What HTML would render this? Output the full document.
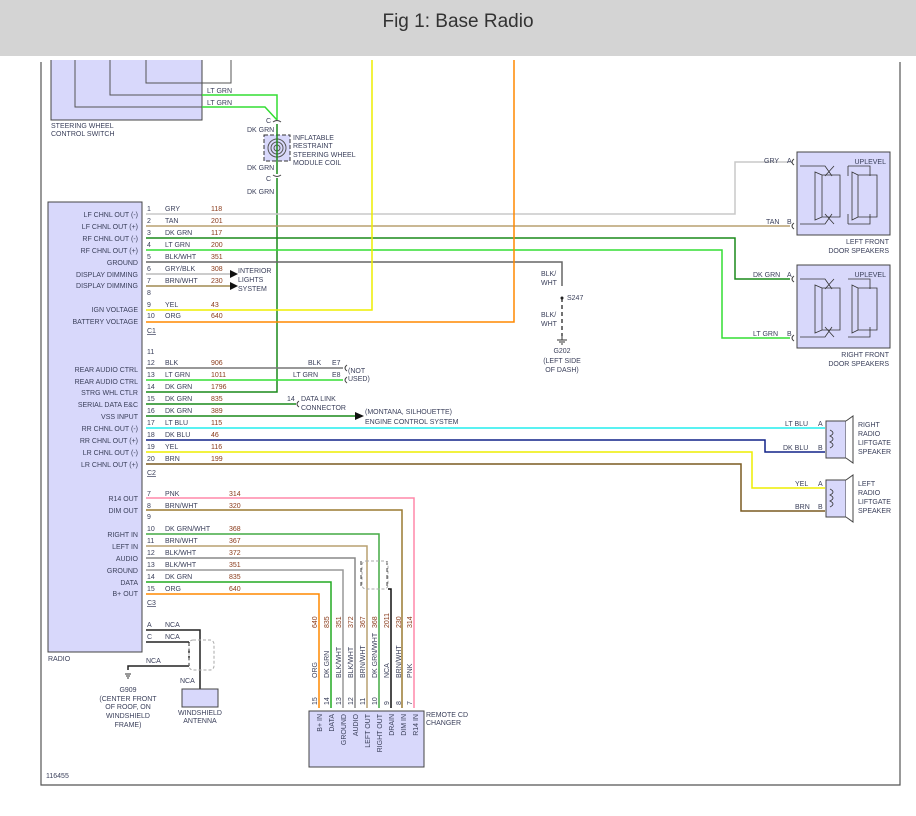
<!DOCTYPE html>
<html><head><meta charset="utf-8"><style>
body{margin:0;background:#fff;width:916px;height:811px;overflow:hidden}
svg text{font-family:"Liberation Sans",sans-serif;font-size:7px;fill:#3a3f5a}
.n{fill:#8a3b1b}
</style></head><body>
<svg width="916" height="811" viewBox="0 0 916 811" xmlns="http://www.w3.org/2000/svg">
<rect x="0" y="0" width="916" height="56" fill="#d4d4d4"/>
<text x="458" y="27" text-anchor="middle" style="font-size:19px;fill:#333">Fig 1: Base Radio</text>
<path d="M41 62V785H900V62" fill="none" stroke="#555" stroke-width="1.2"/>

<path d="M51 60V120H202V60" fill="#d8d8fb" stroke="#444"/>
<path d="M75 60V107H202M110 60V95H202M146 60V83H231V60" fill="none" stroke="#555"/>
<text x="51" y="128">STEERING WHEEL</text><text x="51" y="136">CONTROL SWITCH</text>
<path d="M202 95H277V120M202 107H265L277 120" fill="none" stroke="#3d3" stroke-width="1.5"/>
<text x="207" y="93">LT GRN</text><text x="207" y="105">LT GRN</text>
<text x="266" y="123">C</text><text x="247" y="132">DK GRN</text>
<path d="M273 122q4-3 8 0M273 175q4 3 8 0" fill="none" stroke="#444"/>
<rect x="264" y="135" width="26" height="26" fill="#d8d8fb" stroke="#333" stroke-dasharray="4 2"/>
<circle cx="277" cy="148" r="9" fill="none" stroke="#555"/><circle cx="277" cy="148" r="6" fill="none" stroke="#555"/><circle cx="277" cy="148" r="3" fill="none" stroke="#555"/>
<text x="293" y="140">INFLATABLE</text><text x="293" y="148">RESTRAINT</text><text x="293" y="157">STEERING WHEEL</text><text x="293" y="165">MODULE COIL</text>
<text x="247" y="170">DK GRN</text><text x="266" y="181">C</text><text x="247" y="194">DK GRN</text>
<path d="M277 124V174M277 178V392H146" fill="none" stroke="#1a8a1a" stroke-width="1.5"/>

<rect x="48" y="202" width="94" height="450" fill="#d8d8fb" stroke="#444"/>
<text x="48" y="661">RADIO</text>

<g fill="none" stroke-width="1.5">
<path d="M146 214H735V162H790" stroke="#c8c8c8"/>
<path d="M146 226H790" stroke="#b8a070"/>
<path d="M146 238H735V279H790" stroke="#1a8a1a"/>
<path d="M146 250H722V338H790" stroke="#3d3"/>
<path d="M146 262H562V286" stroke="#666"/>
<path d="M562 298V336" stroke="#444" stroke-dasharray="4 3"/>
<path d="M146 274H230" stroke="#bbb"/>
<path d="M146 286H230" stroke="#a08a50"/>
<path d="M146 310H372V60" stroke="#ee0"/>
<path d="M146 322H514V60" stroke="#f80"/>
<path d="M146 368H343" stroke="#777"/>
<path d="M146 380H343" stroke="#3d3"/>
<path d="M146 404H296" stroke="#1a8a1a"/>
<path d="M146 416H355" stroke="#1a8a1a"/>
<path d="M146 428H825" stroke="#2ee"/>
<path d="M146 440H765V452H825" stroke="#128"/>
<path d="M146 452H752V488H825" stroke="#ee0"/>
<path d="M146 464H741V511H825" stroke="#7a5a20"/>
<path d="M146 498H414V708" stroke="#f8a"/>
<path d="M146 510H402V708" stroke="#9a7a30"/>
<path d="M146 534H379V708" stroke="#4a4"/>
<path d="M146 546H367V708" stroke="#b8a070"/>
<path d="M146 558H355V708" stroke="#888"/>
<path d="M146 570H343V708" stroke="#999"/>
<path d="M146 582H331V708" stroke="#2a2"/>
<path d="M146 594H319V708" stroke="#f80"/>
<path d="M388 589H391V708" stroke="#111"/>
<path d="M146 630H200V689M146 642H189M128 670V666H189" stroke="#222"/>
</g>
<path d="M189 642V666" stroke="#222" stroke-dasharray="4 3" stroke-width="1.5"/>
<rect x="189" y="640" width="25" height="30" rx="4" fill="none" stroke="#aaa" stroke-dasharray="3 2"/>
<path d="M361 561V589" stroke="#444" stroke-dasharray="4 3"/>
<path d="M387 561V589" stroke="#444" stroke-dasharray="4 3"/>
<rect x="362" y="561" width="26" height="28" rx="4" fill="none" stroke="#aaa" stroke-dasharray="3 2"/>
<polygon points="230,270 238,274 230,278" fill="#111"/><polygon points="230,282 238,286 230,290" fill="#111"/>
<polygon points="355,412 364,416 355,420" fill="#111"/>
<text x="238" y="273">INTERIOR</text><text x="238" y="282">LIGHTS</text><text x="238" y="291">SYSTEM</text>
<text x="365" y="414">(MONTANA, SILHOUETTE)</text><text x="365" y="424">ENGINE CONTROL SYSTEM</text>
<path d="M347 365q-4 3 0 6M347 377q-4 3 0 6M299 401q-4 3 0 6" fill="none" stroke="#444"/>
<text x="308" y="365">BLK</text><text x="332" y="365">E7</text>
<text x="293" y="377">LT GRN</text><text x="332" y="377">E8</text>
<text x="348" y="373">(NOT</text><text x="348" y="381">USED)</text>
<text x="287" y="401">14</text><text x="301" y="401">DATA LINK</text><text x="301" y="410">CONNECTOR</text>

<text x="541" y="276">BLK/</text><text x="541" y="285">WHT</text>
<circle cx="562" cy="298" r="1.5" fill="#222"/><text x="567" y="300">S247</text>
<text x="541" y="317">BLK/</text><text x="541" y="326">WHT</text>
<path d="M562 336V340M557 340H567M559 342H565M561 344H563" stroke="#333"/>
<text x="562" y="353" text-anchor="middle">G202</text><text x="562" y="363" text-anchor="middle">(LEFT SIDE</text><text x="562" y="372" text-anchor="middle">OF DASH)</text>

<g text-anchor="end">
<text x="138" y="217">LF CHNL OUT (-)</text><text x="138" y="229">LF CHNL OUT (+)</text><text x="138" y="241">RF CHNL OUT (-)</text><text x="138" y="253">RF CHNL OUT (+)</text><text x="138" y="265">GROUND</text><text x="138" y="277">DISPLAY DIMMING</text><text x="138" y="288">DISPLAY DIMMING</text><text x="138" y="312">IGN VOLTAGE</text><text x="138" y="324">BATTERY VOLTAGE</text>
<text x="138" y="372">REAR AUDIO CTRL</text><text x="138" y="384">REAR AUDIO CTRL</text><text x="138" y="395">STRG WHL CTLR</text><text x="138" y="407">SERIAL DATA E&amp;C</text><text x="138" y="419">VSS INPUT</text><text x="138" y="431">RR CHNL OUT (-)</text><text x="138" y="443">RR CHNL OUT (+)</text><text x="138" y="455">LR CHNL OUT (-)</text><text x="138" y="467">LR CHNL OUT (+)</text>
<text x="138" y="501">R14 OUT</text><text x="138" y="513">DIM OUT</text><text x="138" y="537">RIGHT IN</text><text x="138" y="549">LEFT IN</text><text x="138" y="561">AUDIO</text><text x="138" y="573">GROUND</text><text x="138" y="585">DATA</text><text x="138" y="596">B+ OUT</text>
</g>
<g>
<text x="147" y="211">1</text><text x="165" y="211">GRY</text><text class="n" x="211" y="211">118</text>
<text x="147" y="223">2</text><text x="165" y="223">TAN</text><text class="n" x="211" y="223">201</text>
<text x="147" y="235">3</text><text x="165" y="235">DK GRN</text><text class="n" x="211" y="235">117</text>
<text x="147" y="247">4</text><text x="165" y="247">LT GRN</text><text class="n" x="211" y="247">200</text>
<text x="147" y="259">5</text><text x="165" y="259">BLK/WHT</text><text class="n" x="211" y="259">351</text>
<text x="147" y="271">6</text><text x="165" y="271">GRY/BLK</text><text class="n" x="211" y="271">308</text>
<text x="147" y="283">7</text><text x="165" y="283">BRN/WHT</text><text class="n" x="211" y="283">230</text>
<text x="147" y="295">8</text>
<text x="147" y="307">9</text><text x="165" y="307">YEL</text><text class="n" x="211" y="307">43</text>
<text x="147" y="318">10</text><text x="165" y="318">ORG</text><text class="n" x="211" y="318">640</text>
<text x="147" y="333" text-decoration="underline">C1</text>
<text x="147" y="354">11</text>
<text x="147" y="365">12</text><text x="165" y="365">BLK</text><text class="n" x="211" y="365">906</text>
<text x="147" y="377">13</text><text x="165" y="377">LT GRN</text><text class="n" x="211" y="377">1011</text>
<text x="147" y="389">14</text><text x="165" y="389">DK GRN</text><text class="n" x="211" y="389">1796</text>
<text x="147" y="401">15</text><text x="165" y="401">DK GRN</text><text class="n" x="211" y="401">835</text>
<text x="147" y="413">16</text><text x="165" y="413">DK GRN</text><text class="n" x="211" y="413">389</text>
<text x="147" y="425">17</text><text x="165" y="425">LT BLU</text><text class="n" x="211" y="425">115</text>
<text x="147" y="437">18</text><text x="165" y="437">DK BLU</text><text class="n" x="211" y="437">46</text>
<text x="147" y="449">19</text><text x="165" y="449">YEL</text><text class="n" x="211" y="449">116</text>
<text x="147" y="461">20</text><text x="165" y="461">BRN</text><text class="n" x="211" y="461">199</text>
<text x="147" y="475" text-decoration="underline">C2</text>
<text x="147" y="496">7</text><text x="165" y="496">PNK</text><text class="n" x="229" y="496">314</text>
<text x="147" y="508">8</text><text x="165" y="508">BRN/WHT</text><text class="n" x="229" y="508">320</text>
<text x="147" y="519">9</text>
<text x="147" y="531">10</text><text x="165" y="531">DK GRN/WHT</text><text class="n" x="229" y="531">368</text>
<text x="147" y="543">11</text><text x="165" y="543">BRN/WHT</text><text class="n" x="229" y="543">367</text>
<text x="147" y="555">12</text><text x="165" y="555">BLK/WHT</text><text class="n" x="229" y="555">372</text>
<text x="147" y="567">13</text><text x="165" y="567">BLK/WHT</text><text class="n" x="229" y="567">351</text>
<text x="147" y="579">14</text><text x="165" y="579">DK GRN</text><text class="n" x="229" y="579">835</text>
<text x="147" y="591">15</text><text x="165" y="591">ORG</text><text class="n" x="229" y="591">640</text>
<text x="147" y="605" text-decoration="underline">C3</text>
<text x="147" y="627">A</text><text x="165" y="627">NCA</text>
<text x="147" y="639">C</text><text x="165" y="639">NCA</text>
<text x="146" y="663">NCA</text><text x="180" y="683">NCA</text>
</g>
<path d="M125 674H131M126 676H130M127 678H129" stroke="#333"/>
<g text-anchor="middle"><text x="128" y="692">G909</text><text x="128" y="701">(CENTER FRONT</text><text x="128" y="709">OF ROOF, ON</text><text x="128" y="718">WINDSHIELD</text><text x="128" y="727">FRAME)</text>
<text x="200" y="715">WINDSHIELD</text><text x="200" y="723">ANTENNA</text></g>
<rect x="182" y="689" width="36" height="18" fill="#d8d8fb" stroke="#444"/>
<text x="46" y="778">116455</text>

<g>
<rect x="797" y="152" width="93" height="83" fill="#d8d8fb" stroke="#444"/>
<rect x="797" y="265" width="93" height="83" fill="#d8d8fb" stroke="#444"/>
<g fill="none" stroke="#333" stroke-width="0.8">
<path d="M800 166H825L832 176M800 224H825L832 214M848 166H870V176M848 224H870V214M834 166L825 176M834 224L825 214M848 166V176M848 224V214"/>
<path d="M822 175H840V217H822ZM822 175L815 172V220L822 217M858 175H877V217H858ZM858 175L852 172V220L858 217"/>
<path d="M800 279H825L832 289M800 337H825L832 327M848 279H870V289M848 337H870V327M834 279L825 289M834 337L825 327"/>
<path d="M822 288H840V330H822ZM822 288L815 285V333L822 330M858 288H877V330H858ZM858 288L852 285V333L858 330"/>
</g>
<text x="886" y="164" text-anchor="end">UPLEVEL</text><text x="886" y="277" text-anchor="end">UPLEVEL</text>
<text x="889" y="244" text-anchor="end">LEFT FRONT</text><text x="889" y="253" text-anchor="end">DOOR SPEAKERS</text>
<text x="889" y="357" text-anchor="end">RIGHT FRONT</text><text x="889" y="366" text-anchor="end">DOOR SPEAKERS</text>
<text x="764" y="163">GRY</text><text x="787" y="163">A</text>
<text x="766" y="224">TAN</text><text x="787" y="224">B</text>
<text x="753" y="277">DK GRN</text><text x="787" y="277">A</text>
<text x="753" y="336">LT GRN</text><text x="787" y="336">B</text>
<path d="M794 159q-4 3 0 6M794 223q-4 3 0 6M794 276q-4 3 0 6M794 335q-4 3 0 6" fill="none" stroke="#444"/>
</g>

<rect x="826" y="421" width="20" height="37" fill="#d8d8fb" stroke="#444"/>
<path d="M846 421L853 416V463L846 458" fill="#fff" stroke="#444"/>
<rect x="826" y="480" width="20" height="37" fill="#d8d8fb" stroke="#444"/>
<path d="M846 480L853 475V522L846 517" fill="#fff" stroke="#444"/>
<path d="M830 430q6 3 0 6q6 3 0 6q6 3 0 6M830 489q6 3 0 6q6 3 0 6q6 3 0 6" fill="none" stroke="#333" stroke-width="0.8"/>
<text x="858" y="427">RIGHT</text><text x="858" y="436">RADIO</text><text x="858" y="445">LIFTGATE</text><text x="858" y="454">SPEAKER</text>
<text x="858" y="486">LEFT</text><text x="858" y="495">RADIO</text><text x="858" y="504">LIFTGATE</text><text x="858" y="513">SPEAKER</text>
<text x="785" y="426">LT BLU</text><text x="818" y="426">A</text>
<text x="783" y="450">DK BLU</text><text x="818" y="450">B</text>
<text x="795" y="486">YEL</text><text x="818" y="486">A</text>
<text x="795" y="509">BRN</text><text x="818" y="509">B</text>

<rect x="309" y="711" width="115" height="56" fill="#d8d8fb" stroke="#444"/>
<text x="426" y="717">REMOTE CD</text><text x="426" y="725">CHANGER</text>
<g>
<text class="n" transform="translate(317,628) rotate(-90)">640</text>
<text class="n" transform="translate(329,628) rotate(-90)">835</text>
<text class="n" transform="translate(341,628) rotate(-90)">351</text>
<text class="n" transform="translate(353,628) rotate(-90)">372</text>
<text class="n" transform="translate(365,628) rotate(-90)">367</text>
<text class="n" transform="translate(377,628) rotate(-90)">368</text>
<text class="n" transform="translate(389,628) rotate(-90)">2011</text>
<text class="n" transform="translate(401,628) rotate(-90)">230</text>
<text class="n" transform="translate(412,628) rotate(-90)">314</text>
<text transform="translate(317,678) rotate(-90)">ORG</text>
<text transform="translate(329,678) rotate(-90)">DK GRN</text>
<text transform="translate(341,678) rotate(-90)">BLK/WHT</text>
<text transform="translate(353,678) rotate(-90)">BLK/WHT</text>
<text transform="translate(365,678) rotate(-90)">BRN/WHT</text>
<text transform="translate(377,678) rotate(-90)">DK GRN/WHT</text>
<text transform="translate(389,678) rotate(-90)">NCA</text>
<text transform="translate(401,678) rotate(-90)">BRN/WHT</text>
<text transform="translate(412,678) rotate(-90)">PNK</text>
<text transform="translate(317,705) rotate(-90)">15</text>
<text transform="translate(329,705) rotate(-90)">14</text>
<text transform="translate(341,705) rotate(-90)">13</text>
<text transform="translate(353,705) rotate(-90)">12</text>
<text transform="translate(365,705) rotate(-90)">11</text>
<text transform="translate(377,705) rotate(-90)">10</text>
<text transform="translate(389,705) rotate(-90)">9</text>
<text transform="translate(401,705) rotate(-90)">8</text>
<text transform="translate(412,705) rotate(-90)">7</text>
</g>
<g text-anchor="end">
<text transform="translate(322,714) rotate(-90)">B+ IN</text>
<text transform="translate(334,714) rotate(-90)">DATA</text>
<text transform="translate(346,714) rotate(-90)">GROUND</text>
<text transform="translate(358,714) rotate(-90)">AUDIO</text>
<text transform="translate(370,714) rotate(-90)">LEFT OUT</text>
<text transform="translate(382,714) rotate(-90)">RIGHT OUT</text>
<text transform="translate(394,714) rotate(-90)">DRAIN</text>
<text transform="translate(406,714) rotate(-90)">DIM IN</text>
<text transform="translate(418,714) rotate(-90)">R14 IN</text>
</g>
</svg>
</body></html>
